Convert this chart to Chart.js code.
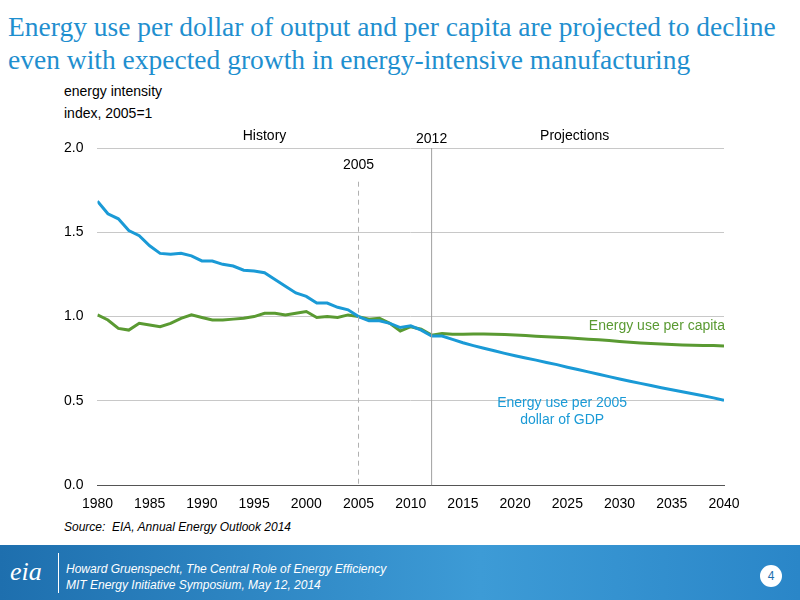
<!DOCTYPE html>
<html>
<head>
<meta charset="utf-8">
<script src="https://cdn.jsdelivr.net/npm/chart.js@4"></script>
<style>
  body { margin: 0; width: 800px; height: 600px; background: #fff; position: relative; overflow: hidden; font-family: "Liberation Sans", Arial, sans-serif; }
  #title { position: absolute; left: 8px; top: 10px; font-family: "Liberation Serif", "Times New Roman", serif; font-size: 27.5px; line-height: 33px; color: #1f8fcf; }
  #ylab { position: absolute; left: 64px; top: 80px; font-size: 14px; line-height: 22px; color: #000; }
  #wrap { position: absolute; left: 0; top: 120px; width: 800px; height: 396px; }
  #source { position: absolute; left: 64px; top: 520px; font-size: 12px; font-style: italic; color: #000; }
  #footer { position: absolute; left: 0; top: 545px; width: 800px; height: 55px; background: linear-gradient(to right, #1e6fae, #3d9bd6 60%, #2a86c8); }
  #footer .logo { position: absolute; left: 10px; top: 12px; color: #fff; font-family: "Liberation Serif", serif; font-size: 26px; font-style: italic; }
  #footer .sep { position: absolute; left: 58px; top: 8px; width: 1px; height: 40px; background: #fff; }
  #footer .txt { position: absolute; left: 66px; top: 16px; color: #fff; font-size: 12px; font-style: italic; line-height: 16px; }
  #footer .pg { position: absolute; left: 760px; top: 20px; width: 22px; height: 22px; border-radius: 11px; background: #fff; color: #1e6fae; font-size: 12px; text-align: center; line-height: 22px; }
</style>
</head>
<body>
<div id="title">Energy use per dollar of output and per capita are projected to decline<br>even with expected growth in energy-intensive manufacturing</div>
<div id="ylab">energy intensity<br>index, 2005=1</div>
<div id="wrap"><canvas id="c" width="800" height="396"></canvas></div>
<div id="source">Source:&nbsp; EIA, Annual Energy Outlook 2014</div>
<div id="footer">
  <div class="logo">eia</div>
  <div class="sep"></div>
  <div class="txt">Howard Gruenspecht, The Central Role of Energy Efficiency<br>MIT Energy Initiative Symposium, May 12, 2014</div>
  <div class="pg">4</div>
</div>
<script>
// Data
const years = [];
for (let y = 1980; y <= 2040; y++) years.push(y);

const perGdp = [
  1.685, 1.61, 1.58, 1.51, 1.48, 1.42, 1.375, 1.37, 1.375, 1.36,
  1.33, 1.33, 1.31, 1.30, 1.275, 1.27, 1.26, 1.22, 1.18, 1.14,
  1.12, 1.08, 1.08, 1.055, 1.04, 1.0, 0.975, 0.975, 0.96, 0.935,
  0.945, 0.92, 0.885, 0.885, 0.865, 0.845, 0.828, 0.812, 0.797, 0.782,
  0.768, 0.755, 0.742, 0.728, 0.715, 0.70, 0.686, 0.672, 0.658, 0.644,
  0.63, 0.617, 0.604, 0.591, 0.578, 0.566, 0.554, 0.542, 0.530, 0.518,
  0.503
];
const perCapita = [
  1.01, 0.98, 0.93, 0.92, 0.96, 0.95, 0.94, 0.96, 0.99, 1.01,
  0.995, 0.98, 0.98, 0.985, 0.99, 1.0, 1.02, 1.02, 1.01, 1.02,
  1.03, 0.995, 1.0, 0.995, 1.01, 1.0, 0.985, 0.99, 0.96, 0.915,
  0.94, 0.925, 0.89, 0.9, 0.895, 0.895, 0.897, 0.897, 0.896, 0.894,
  0.891, 0.888, 0.884, 0.881, 0.878, 0.874, 0.870, 0.866, 0.862, 0.858,
  0.853, 0.848, 0.844, 0.840, 0.837, 0.834, 0.832, 0.830, 0.829, 0.828,
  0.826
];
const yTicks = [0, 0.5, 1.0, 1.5, 2.0];

const blue = '#1a9ad6';
const green = '#5a9a32';

// Reference lines and text labels, placed in data coordinates
const annotations = {
  id: 'annotations',
  afterDatasetsDraw(chart) {
    const { ctx, scales: { x, y } } = chart;
    ctx.save();
    // 2005 dashed line
    ctx.strokeStyle = '#b0b0b0';
    ctx.lineWidth = 1;
    ctx.setLineDash([5, 4]);
    ctx.beginPath();
    ctx.moveTo(x.getPixelForValue(2005), y.getPixelForValue(1.8));
    ctx.lineTo(x.getPixelForValue(2005), y.getPixelForValue(0));
    ctx.stroke();
    // 2012 solid line
    ctx.setLineDash([]);
    ctx.strokeStyle = '#a0a0a0';
    ctx.beginPath();
    ctx.moveTo(x.getPixelForValue(2012), y.getPixelForValue(2.0));
    ctx.lineTo(x.getPixelForValue(2012), y.getPixelForValue(0));
    ctx.stroke();

    ctx.font = '14px "Liberation Sans", Arial, sans-serif';
    ctx.textAlign = 'center';
    ctx.textBaseline = 'middle';
    ctx.fillStyle = '#000';
    ctx.fillText('History', x.getPixelForValue(1996), y.getPixelForValue(2.07));
    ctx.fillText('Projections', x.getPixelForValue(2025.7), y.getPixelForValue(2.07));
    ctx.fillText('2012', x.getPixelForValue(2012), y.getPixelForValue(2.05));
    ctx.fillText('2005', x.getPixelForValue(2005), y.getPixelForValue(1.9));
    ctx.fillStyle = green;
    ctx.textAlign = 'right';
    ctx.fillText('Energy use per capita', x.getPixelForValue(2040.1), y.getPixelForValue(0.945));
    ctx.fillStyle = blue;
    ctx.textAlign = 'center';
    ctx.fillText('Energy use per 2005', x.getPixelForValue(2024.5), y.getPixelForValue(0.485));
    ctx.fillText('dollar of GDP', x.getPixelForValue(2024.5), y.getPixelForValue(0.385));
    ctx.restore();
  }
};

new Chart(document.getElementById('c'), {
  type: 'line',
  data: {
    labels: years,
    datasets: [
      { label: 'Energy use per 2005 dollar of GDP', data: years.map((yr, i) => ({ x: yr, y: perGdp[i] })),
        borderColor: blue, borderWidth: 3, pointRadius: 0, tension: 0 },
      { label: 'Energy use per capita', data: years.map((yr, i) => ({ x: yr, y: perCapita[i] })),
        borderColor: green, borderWidth: 3, pointRadius: 0, tension: 0 }
    ]
  },
  options: {
    responsive: false,
    animation: false,
    layout: { padding: { left: 50, right: 76, top: 28, bottom: 0 } },
    plugins: { legend: { display: false }, tooltip: { enabled: false } },
    scales: {
      x: {
        type: 'linear', min: 1980, max: 2040,
        ticks: { stepSize: 5, color: '#000', font: { size: 14, family: '"Liberation Sans", Arial' }, maxRotation: 0,
          callback: v => String(v) },
        grid: { display: false, drawTicks: true },
        border: { color: '#555', width: 1 }
      },
      y: {
        min: 0, max: 2.0,
        afterBuildTicks: axis => { axis.ticks = yTicks.map(v => ({ value: v })); },
        ticks: { color: '#000', padding: 14, font: { size: 14, family: '"Liberation Sans", Arial' },
          callback: v => v.toFixed(1) },
        grid: { color: '#c8c8c8', drawTicks: false },
        border: { display: false }
      }
    }
  },
  plugins: [annotations]
});
</script>
</body>
</html>
